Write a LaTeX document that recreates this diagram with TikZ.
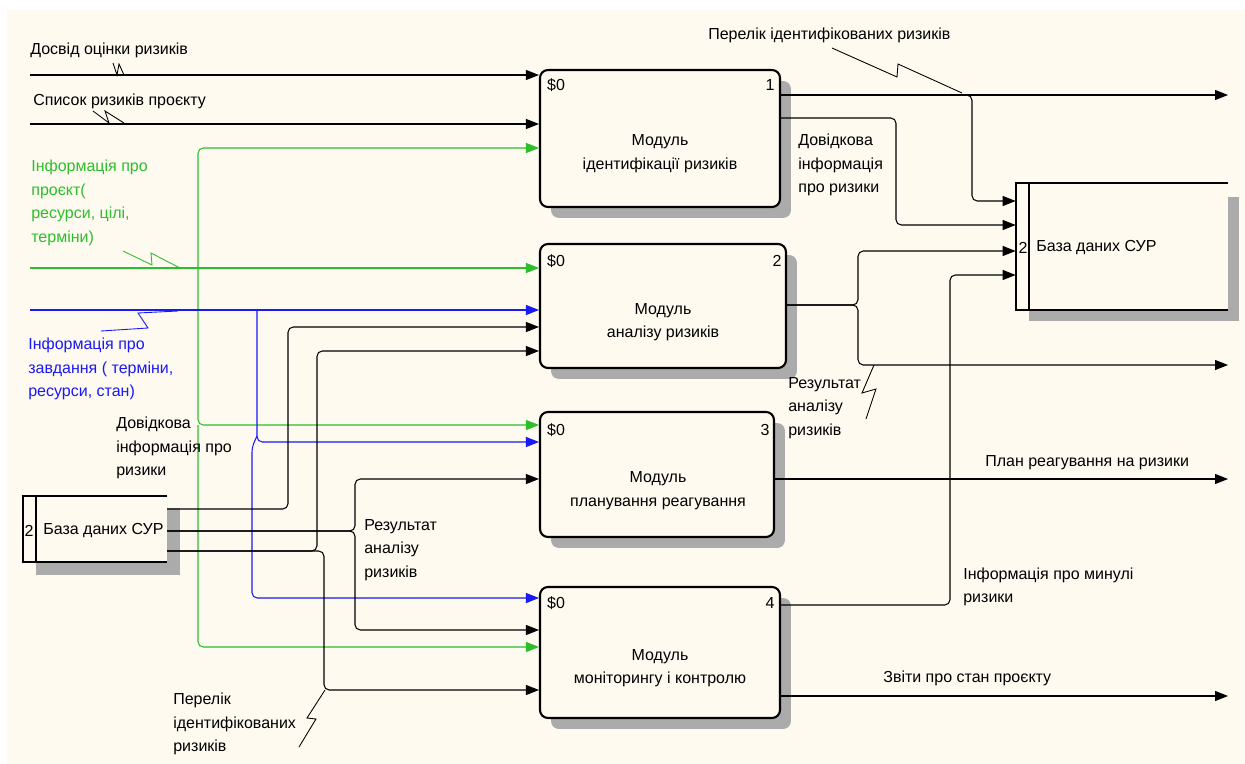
\documentclass[tikz,border=0pt]{standalone}
\usepackage{fontspec}
\setmainfont{Liberation Sans}
\usetikzlibrary{arrows.meta,shadows}
\definecolor{paper}{RGB}{254,250,240}
\definecolor{grn}{RGB}{45,190,45}
\definecolor{blu}{RGB}{25,25,245}

\begin{document}
\begin{tikzpicture}[
x=0.02cm,y=-0.02cm,
font=\fontsize{9.1}{13.4}\selectfont,
every node/.style={inner sep=0pt}
]

  \tikzstyle{box}=[draw,line width=1.2pt,rounded corners=4.5pt,fill=paper,
    drop shadow={shadow xshift=0.22cm,shadow yshift=-0.22cm,fill=black!33,opacity=1}]
  \tikzstyle{pipe}=[line width=0.6pt,rounded corners=3pt]
  \tikzstyle{arr}=[pipe,-{Triangle[length=7.4pt,width=5.7pt]}]
  \tikzstyle{squig}=[line width=0.5pt]
  \tikzstyle{lbl}=[anchor=west,align=left]
  \tikzstyle{dbline}=[line width=1.2pt]
  \tikzstyle{shade}=[fill=black!33]

  \useasboundingbox (0,0) rectangle (1245,764);
  \fill[paper] (7,10) rectangle (1245,764);

  % activity boxes
  \node (b1) [box,minimum width=4.8cm,minimum height=2.74cm] at (660,138.5) {};
  \node (b2) [box,minimum width=4.92cm,minimum height=2.48cm] at (663,306) {};
  \node (b3) [box,minimum width=4.68cm,minimum height=2.5cm] at (657,474.5) {};
  \node (b4) [box,minimum width=4.8cm,minimum height=2.62cm] at (660,652.5) {};

  \node (t1) [align=center] at (660,153.5) {Модуль\\ідентифікації ризиків};
  \node (t2) [align=center] at (663,322) {Модуль\\аналізу ризиків};
  \node (t3) [align=center] at (658,490.5) {Модуль\\планування реагування};
  \node (t4) [align=center] at (660,668) {Модуль\\моніторингу і контролю};

  \node (b1s) at (556,85) {\$0};  \node (b1n) at (770,85) {1};
  \node (b2s) at (556,261) {\$0}; \node (b2n) at (777,261) {2};
  \node (b3s) at (556,430) {\$0}; \node (b3n) at (765,430) {3};
  \node (b4s) at (556,603) {\$0}; \node (b4n) at (770,603) {4};

  % data stores
  \node (db1) [minimum width=2.88cm,minimum height=1.32cm] at (95,529) {};
  \fill[shade] (167,508) rectangle (180,575);
  \fill[shade] (36,562) rectangle (180,575);
  \draw[dbline] (db1.north east) -- (db1.north west) -- (db1.south west) -- (db1.south east);
  \draw[dbline] ([xshift=0.26cm]db1.north west) -- ([xshift=0.26cm]db1.south west);
  \node (db1n) at (29,531) {2};
  \node (db1t) [anchor=west] at (43,531) {База даних СУР};

  \node (db2) [minimum width=4.24cm,minimum height=2.54cm] at (1122,246.5) {};
  \fill[shade] (1228,197) rectangle (1239,321);
  \fill[shade] (1029,310) rectangle (1239,321);
  \draw[dbline] (db2.north east) -- (db2.north west) -- (db2.south west) -- (db2.south east);
  \draw[dbline] ([xshift=0.26cm]db2.north west) -- ([xshift=0.26cm]db2.south west);
  \node (db2n) at (1023,248) {2};
  \node (db2t) [anchor=west] at (1036,248) {База даних СУР};

  % inputs
  \coordinate (src1) at (30,75);
  \coordinate (src2) at (30,124);
  \draw[arr] (src1) -- (src1 -| b1.west);
  \draw[arr] (src2) -- (src2 -| b1.west);

  \coordinate (gsrc) at (30,268);
  \coordinate (gj) at (198,268);
  \coordinate (gup) at (198,148);
  \coordinate (gmid) at (198,425);
  \coordinate (glow) at (198,647);
  \draw[arr,grn] (gsrc) -- (gsrc -| b2.west);
  \draw[arr,grn] (gj) -- (gup) -- (gup -| b1.west);
  \draw[arr,grn] (gj) -- (gmid) -- (gmid -| b3.west);
  \draw[arr,grn] (gmid) -- (glow) -- (glow -| b4.west);

  \coordinate (bsrc) at (30,310);
  \coordinate (bj) at (257,310);
  \coordinate (bmid) at (257,442);
  \coordinate (bfork) at (257,436);
  \coordinate (bkink) at (252,447);
  \coordinate (blow) at (252,598);
  \draw[arr,blu] (bsrc) -- (bsrc -| b2.west);
  \draw[arr,blu] (bj) -- (bmid) -- (bmid -| b3.west);
  \draw[arr,blu] (bfork) -- (bkink) -- (blow) -- (blow -| b4.west);

  \coordinate (da) at (167,509);
  \coordinate (daj) at (288,509);
  \coordinate (dat) at (288,327);
  \draw[arr] (da) -- (daj) -- (dat) -- (dat -| b2.west);

  \coordinate (dm) at (167,531);
  \coordinate (dmj) at (355,531);
  \coordinate (dmu) at (355,479);
  \coordinate (dmd) at (355,630);
  \draw[arr] (dm) -- (dmj) -- (dmu) -- (dmu -| b3.west);
  \draw[arr] (dm) -- (dmj) -- (dmd) -- (dmd -| b4.west);

  \coordinate (dc) at (167,551);
  \coordinate (dcj) at (317,551);
  \coordinate (dcu) at (317,351);
  \coordinate (dck) at (324,551);
  \coordinate (dcd) at (324,690);
  \draw[arr] (dc) -- (dcj) -- (dcu) -- (dcu -| b2.west);
  \draw[arr] (dc) -- (dck) -- (dcd) -- (dcd -| b4.west);

  % outputs
  \coordinate (o1) at (780,95);
  \coordinate (e1) at (1228,95);
  \coordinate (o1j) at (972,95);
  \coordinate (o1d) at (972,201);
  \draw[arr] (o1) -- (e1);
  \draw[arr] (o1) -- (o1j) -- (o1d) -- (o1d -| db2.west);

  \coordinate (o2) at (780,118);
  \coordinate (o2j) at (896,118);
  \coordinate (o2d) at (896,225);
  \draw[arr] (o2) -- (o2j) -- (o2d) -- (o2d -| db2.west);

  \coordinate (o3) at (786,305);
  \coordinate (o3j) at (858,305);
  \coordinate (o3u) at (858,251);
  \coordinate (o3d) at (858,365);
  \coordinate (e3) at (1228,365);
  \draw[arr] (o3) -- (o3j) -- (o3u) -- (o3u -| db2.west);
  \draw[arr] (o3) -- (o3j) -- (o3d) -- (e3);

  \coordinate (o4) at (774,479);
  \coordinate (e4) at (1228,479);
  \draw[arr] (o4) -- (e4);

  \coordinate (o5) at (780,605);
  \coordinate (o5j) at (950,605);
  \coordinate (o5u) at (950,275);
  \draw[arr] (o5) -- (o5j) -- (o5u) -- (o5u -| db2.west);

  \coordinate (o6) at (780,696);
  \coordinate (e6) at (1228,696);
  \draw[arr] (o6) -- (e6);

  % squiggles
  \draw[squig] (113,63) -- (117,75) -- (119,64) -- (124,75);
  \draw[squig] (93,111) -- (109,123) -- (105,111) -- (124,123);
  \draw[squig,grn] (123,251) -- (152,265) -- (151,253) -- (180,268);
  \draw[squig,blu] (178,311) -- (138,313) -- (148,328) -- (101,331);
  \draw[squig] (832,48) -- (897,77) -- (898,64) -- (962,93);
  \draw[squig] (874,365) -- (862,393) -- (876,389) -- (866,419);
  \draw[squig] (325,690) -- (307,718) -- (316,719) -- (299,747);

  % labels
  \node (l1) [lbl] at (30,50) {Досвід оцінки ризиків};
  \node (l2) [lbl] at (33,101) {Список ризиків проєкту};
  \node (l3) [lbl,text=grn] at (31,203) {Інформація про\\проєкт(\\ресурси, цілі,\\терміни)};
  \node (l4) [lbl,text=blu] at (28,369) {Інформація про\\завдання ( терміни,\\ресурси, стан)};
  \node (l5) [lbl] at (116,448) {Довідкова\\інформація про\\ризики};
  \node (l6) [lbl] at (364,550) {Результат\\аналізу\\ризиків};
  \node (l7) [lbl] at (173,724) {Перелік\\ідентифікованих\\ризиків};
  \node (l8) [lbl] at (708,35) {Перелік ідентифікованих ризиків};
  \node (l9) [lbl] at (798,165) {Довідкова\\інформація\\про ризики};
  \node (l10) [lbl] at (788,408) {Результат\\аналізу\\ризиків};
  \node (l11) [lbl] at (985,463) {План реагування на ризики};
  \node (l12) [lbl] at (963,587) {Інформація про минулі\\ризики};
  \node (l13) [lbl] at (883,678) {Звіти про стан проєкту};

\end{tikzpicture}
\end{document}
